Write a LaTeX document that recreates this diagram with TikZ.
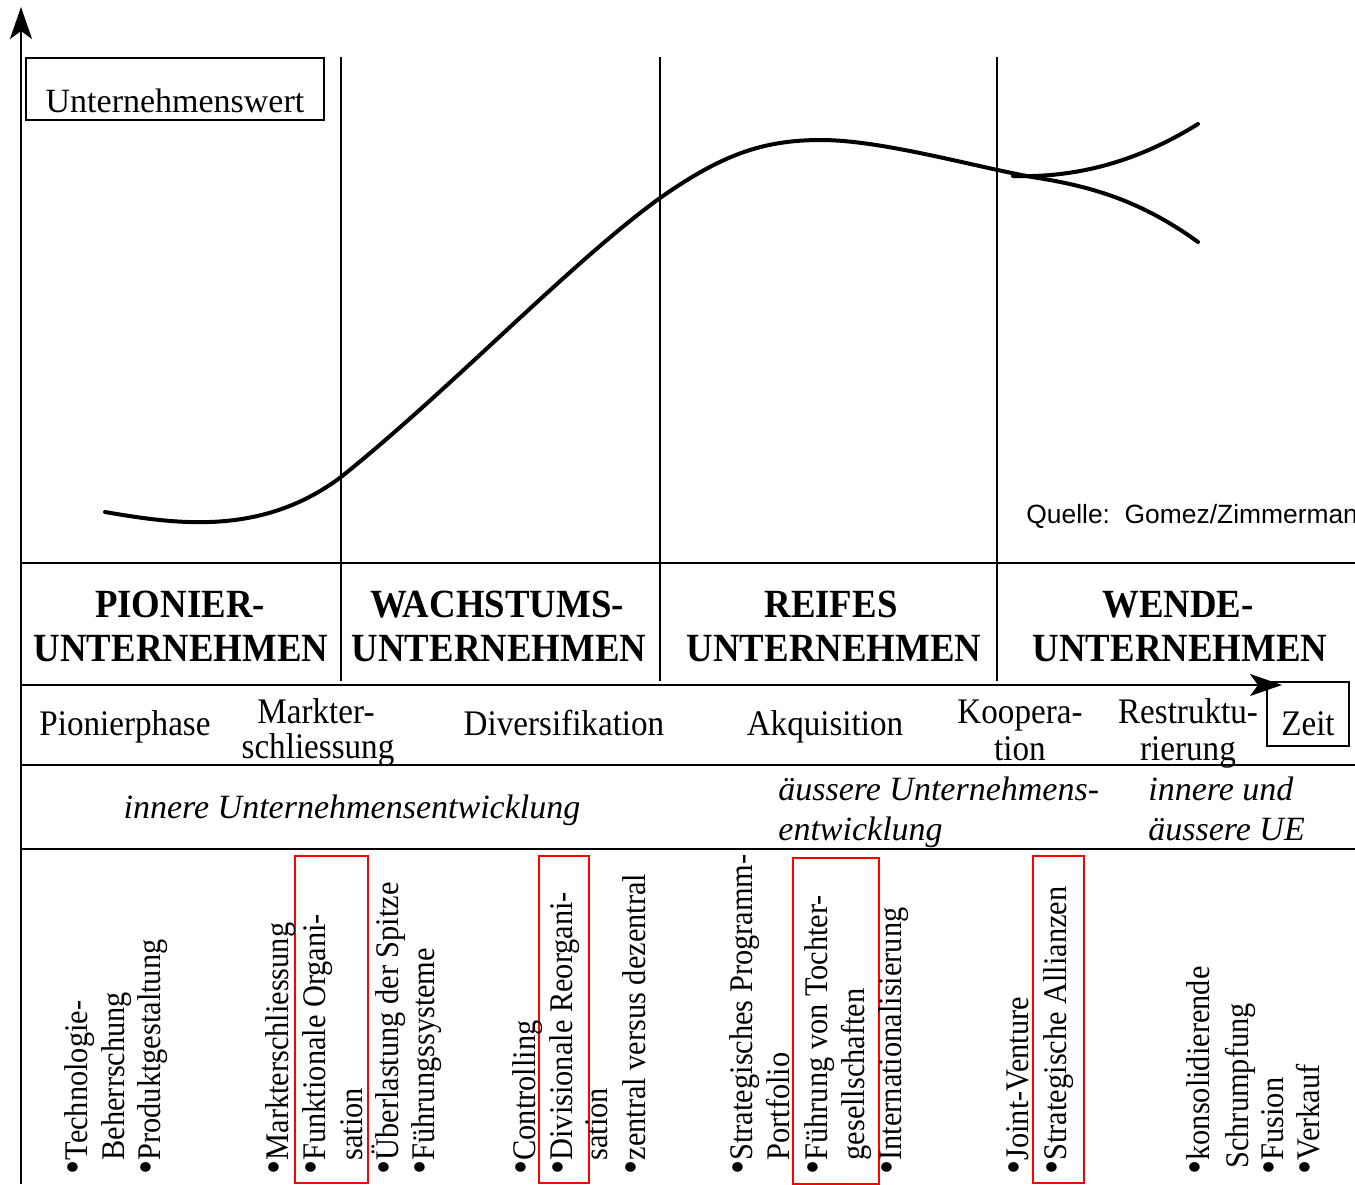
\documentclass[tikz,border=0pt]{standalone}
\usepackage{fontspec}
\setmainfont{Liberation Serif}
\newfontfamily\cnd[FakeStretch=0.92]{Liberation Serif}
\newfontfamily\qsans{Liberation Sans}
\usetikzlibrary{arrows.meta}
\newcommand\bul{{\fontsize{22}{22}\selectfont •}}
\tikzset{
  frame/.style={line width=1pt},
  tipline/.style={line width=1pt,-{Stealth[length=16pt,width=11pt,inset=4pt]}},
  curveline/.style={line width=2pt,line cap=round},
  head/.style={font=\cnd\bfseries\fontsize{20}{22}\selectfont, anchor=base, inner sep=0pt},
  phase/.style={font=\cnd\fontsize{18}{20}\selectfont, anchor=base, inner sep=0pt},
  devel/.style={font=\itshape\fontsize{17}{20}\selectfont, inner sep=0pt},
  rot/.style={font=\cnd\fontsize{16.5}{18}\selectfont, rotate=90, anchor=base west, inner sep=0pt},
  redbox/.style={draw=red, line width=1pt, anchor=north west, inner sep=0pt},
}
\begin{document}
\begin{tikzpicture}[x=0.5pt,y=-0.5pt]
\useasboundingbox (0,0) rectangle (1355,1184);
\clip (0,0) rectangle (1355,1184);

% coordinates
\coordinate (axb) at (21,1184);
\coordinate (axt) at (21,7);
\coordinate (h1a) at (21,563);  \coordinate (h1b) at (1355,563);
\coordinate (h2a) at (21,685);  \coordinate (h2b) at (1282,685);
\coordinate (h3a) at (21,765);  \coordinate (h3b) at (1355,765);
\coordinate (h4a) at (21,849);  \coordinate (h4b) at (1355,849);
\coordinate (v1a) at (341,57);  \coordinate (v1b) at (341,681);
\coordinate (v2a) at (660,57);  \coordinate (v2b) at (660,681);
\coordinate (v3a) at (997,57);  \coordinate (v3b) at (997,681);

% axis and grid
\draw[tipline] (axb) -- (axt);
\draw[frame] (h1a) -- (h1b);
\draw[tipline] (h2a) -- (h2b);
\draw[frame] (h3a) -- (h3b);
\draw[frame] (h4a) -- (h4b);
\draw[frame] (v1a) -- (v1b);
\draw[frame] (v2a) -- (v2b);
\draw[frame] (v3a) -- (v3b);

% value box
\node[draw, line width=1pt, anchor=north west, minimum width=149pt, minimum height=31pt,
      inner sep=0pt, text height=23pt, text depth=0pt, font=\fontsize{17}{20}\selectfont]
  (uw) at (25,57) {Unternehmenswert\hspace{8pt}};

% curve
\coordinate (cA) at (105,512);
\coordinate (cB) at (341,477);
\coordinate (cD) at (660,198);
\coordinate (cE) at (821,140);
\coordinate (cF) at (1032,177);
\draw[curveline] (cA) .. controls (175,524) and (261,537) .. (cB)
  .. controls (451,389) and (570,263) .. (cD)
  .. controls (720,156) and (761,140) .. (cE)
  .. controls (881,140) and (972,166) .. (cF);
\coordinate (uS) at (1013,176);
\coordinate (uT) at (1198,124);
\coordinate (lS) at (1032,177);
\coordinate (lT) at (1198,242);
\draw[curveline] (uS) .. controls (1080,178) and (1140,160) .. (uT);
\draw[curveline] (lS) .. controls (1090,186) and (1140,200) .. (lT);

% source
\node[anchor=base west, inner sep=0pt, font=\qsans\fontsize{13.2}{15}\selectfont]
  (src) at (1026,523) {Quelle:\ \ Gomez/Zimmerman};

% row 1
\node[head] (p1) at (180,617) {PIONIER-};
\node[head] (p2) at (181,661) {UNTERNEHMEN};
\node[head] (w1) at (497,617) {WACHSTUMS-};
\node[head] (w2) at (499,661) {UNTERNEHMEN};
\node[head] (r1) at (831,617) {REIFES};
\node[head] (r2) at (834,661) {UNTERNEHMEN};
\node[head] (e1) at (1178,617) {WENDE-};
\node[head] (e2) at (1180,661) {UNTERNEHMEN};

% row 2
\node[phase] (ph1) at (125,735) {Pionierphase};
\node[phase] (ph2a) at (316,723) {Markter-};
\node[phase] (ph2b) at (318,758) {schliessung};
\node[phase] (ph3) at (564,735) {Diversifikation};
\node[phase] (ph4) at (825,735) {Akquisition};
\node[phase] (ph5a) at (1020,723) {Koopera-};
\node[phase] (ph5b) at (1020,760) {tion};
\node[phase] (ph6a) at (1188,723) {Restruktu-};
\node[phase] (ph6b) at (1188,760) {rierung};
\node[draw, line width=1pt, minimum width=41pt, minimum height=32pt, inner sep=0pt,
      text height=21pt, text depth=0pt, font=\cnd\fontsize{18}{20}\selectfont]
  (zeit) at (1308,714) {Zeit};

% row 3
\node[devel, anchor=base] (d1) at (352,818) {innere Unternehmensentwicklung};
\node[devel, anchor=base west] (d2a) at (778,800) {äussere Unternehmens-};
\node[devel, anchor=base west] (d2b) at (778,840) {entwicklung};
\node[devel, anchor=base west] (d3a) at (1148,800) {innere und};
\node[devel, anchor=base west] (d3b) at (1148,840) {äussere UE};

% red boxes
\node[redbox, minimum width=36.5pt, minimum height=163.5pt] (rb1) at (294,855) {};
\node[redbox, minimum width=25pt, minimum height=163.5pt] (rb2) at (538,855) {};
\node[redbox, minimum width=43pt, minimum height=163pt] (rb3) at (792,857) {};
\node[redbox, minimum width=25.5pt, minimum height=163.5pt] (rb4) at (1032,855) {};

% rotated lists
\node[rot] (a1) at (87,1175) {\bul Technologie-};
\node[rot] (a2) at (124,1175) {\phantom{\bul}Beherrschung};
\node[rot] (a3) at (160,1175) {\bul Produktgestaltung};

\node[rot] (b1) at (288,1175) {\bul Markterschliessung};
\node[rot] (b2) at (325,1175) {\bul Funktionale Organi-};
\node[rot] (b3) at (362,1175) {\phantom{\bul}sation};
\node[rot] (b4) at (398,1175) {\bul Überlastung der Spitze};
\node[rot] (b5) at (434,1175) {\bul Führungssysteme};

\node[rot] (c1) at (535,1175) {\bul Controlling};
\node[rot] (c2) at (572,1175) {\bul Divisionale Reorgani-};
\node[rot] (c3) at (607,1175) {\phantom{\bul}sation};
\node[rot] (c4) at (645,1175) {\bul zentral versus dezentral};

\node[rot] (s1) at (752,1175) {\bul Strategisches Programm-};
\node[rot] (s2) at (789,1175) {\phantom{\bul}Portfolio};
\node[rot] (s3) at (827,1175) {\bul Führung von Tochter-};
\node[rot] (s4) at (864,1175) {\phantom{\bul}gesellschaften};
\node[rot] (s5) at (901,1175) {\bul Internationalisierung};

\node[rot] (j1) at (1028,1175) {\bul Joint-Venture};
\node[rot] (j2) at (1066,1175) {\bul Strategische Allianzen};

\node[rot] (k1) at (1209,1175) {\bul konsolidierende};
\node[rot] (k2) at (1248,1175) {\hspace{3pt}Schrumpfung};
\node[rot] (k3) at (1283,1175) {\bul Fusion};
\node[rot] (k4) at (1319,1175) {\bul Verkauf};
\end{tikzpicture}
\end{document}
